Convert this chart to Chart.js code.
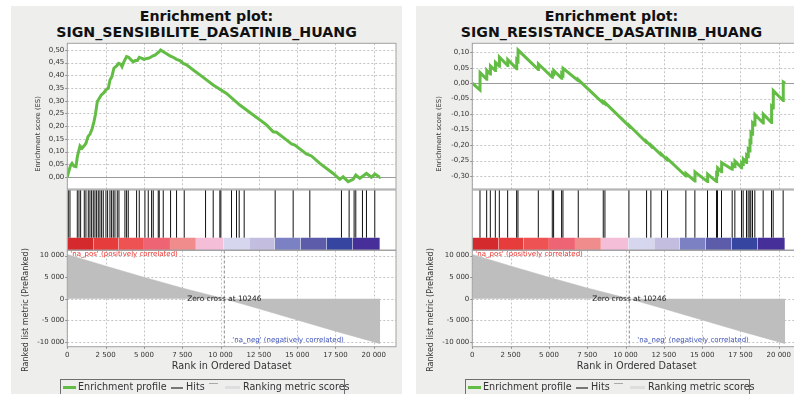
<!DOCTYPE html>
<html>
<head>
<meta charset="utf-8">
<script src="https://cdn.jsdelivr.net/npm/chart.js@4.4.1/dist/chart.umd.min.js"></script>
<style>
  html, body { margin: 0; padding: 0; background: #fff; }
  #page { position: relative; width: 794px; height: 394px; overflow: hidden; font-family: "DejaVu Sans", sans-serif; }
  .panel { position: absolute; top: 6px; width: 391px; height: 400px; background: #eeefed; }
  .title { position: absolute; top: 7.5px; width: 391px; text-align: center; font-weight: bold; font-size: 14.2px; line-height: 16px; color: #111; }
  canvas { position: absolute; }
  .ytitle { position: absolute; white-space: nowrap; color: #333; transform: translate(-50%, -50%) rotate(-90deg); }
  .legend { position: absolute; top: 379px; width: 283px; height: 22px; border: 1px solid #6e6e6e; font-size: 9.6px; color: #333; }
  .legend span { position: absolute; top: -0.5px; line-height: 14px; white-space: nowrap; }
  .legend i { position: absolute; display: block; }
</style>
</head>
<body>
<div id="page"></div>
<script>
// === Données communes ===
const X_MAX = 21450;
const xTicks = [0, 2500, 5000, 7500, 10000, 12500, 15000, 17500, 20000];
const zeroCross = 10246;
const metricRanks = [0, 2500, 5000, 7500, 10246, 12500, 15000, 17500, 20417];
const metricValues = [10300, 7600, 5000, 2500, 0, -2300, -4900, -7500, -10400];
const metricTicks = [-10000, -5000, 0, 5000, 10000];
const barEdges = [0, 1698, 3328, 5000, 6700, 8390, 10176, 11870, 13540, 15220, 16915, 18610, 20393];
const barColors = ['#d42a2e', '#e63c3c', '#ef5252', '#ee6474', '#f08c8c', '#f4bdd8',
                   '#d6d6ee', '#c3bee0', '#7b81c3', '#5c5cab', '#3646a0', '#462f98'];

// === Panneau 1 : SIGN_SENSIBILITE ===
const sensTitle = 'SIGN_SENSIBILITE_DASATINIB_HUANG';
const sensHits = [65, 174, 652, 761, 870, 1109, 1217, 1370, 1478, 1587, 1696, 1804, 1913, 2022, 2130,
  2239, 2348, 2522, 2630, 2783, 2891, 3000, 3109, 3261, 3370, 3761, 3870, 3978, 4522, 4696, 5065,
  5283, 5500, 5609, 5935, 6000, 6261, 6739, 7130, 7630, 9022, 9522, 9957, 10022, 10717, 11043,
  11217, 11543, 13565, 14739, 15826, 17891, 18391, 18717, 18826, 19261, 19522, 20065];
const sensRanks = [0, 89, 220, 307, 437, 567, 654, 828, 958, 1087, 1220, 1350, 1480, 1610, 1740, 1830,
  1960, 2090, 2220, 2390, 2520, 2675, 2785, 2910, 3040, 3220, 3350, 3480, 3570, 3700, 3870, 4000,
  4130, 4300, 4440, 4570, 4700, 4870, 5000, 5170, 5300, 5435, 5570, 5740, 5870, 6000, 6090, 6260,
  6430, 6700, 6910, 7130, 7350, 7570, 7780, 8220, 8870, 9520, 10390, 11260, 11696, 13000, 13435,
  13650, 14300, 14630, 14850, 15600, 15930, 16480, 17350, 17780, 18000, 18330, 18650, 18830, 19090,
  19300, 19520, 19850, 20065, 20390, 20417];
const sensES = [0, 0.021, 0.047, 0.054, 0.043, 0.041, 0.080, 0.122, 0.113, 0.122, 0.133, 0.159, 0.169,
  0.188, 0.218, 0.244, 0.297, 0.310, 0.323, 0.332, 0.343, 0.349, 0.382, 0.395, 0.428, 0.437, 0.447,
  0.444, 0.434, 0.454, 0.474, 0.471, 0.463, 0.453, 0.458, 0.458, 0.471, 0.467, 0.463, 0.466, 0.467,
  0.471, 0.476, 0.480, 0.487, 0.493, 0.500, 0.493, 0.487, 0.476, 0.471, 0.463, 0.458, 0.447, 0.441,
  0.421, 0.392, 0.362, 0.329, 0.283, 0.264, 0.205, 0.178, 0.176, 0.146, 0.130, 0.126, 0.091, 0.083,
  0.054, 0.014, -0.009, 0.001, -0.018, -0.009, 0.008, -0.005, 0.004, 0.014, -0.001, 0.012, -0.001, 0];
const sensTicks = [0, 0.05, 0.1, 0.15, 0.2, 0.25, 0.3, 0.35, 0.4, 0.45, 0.5];

// === Panneau 2 : SIGN_RESISTANCE ===
const resTitle = 'SIGN_RESISTANCE_DASATINIB_HUANG';
const resHits = [502, 937, 1176, 1502, 1763, 2307, 2893, 2980, 4307, 5220, 5306, 5828, 5915, 6915,
  8546, 8655, 10220, 11372, 11654, 12350, 12741, 13937, 14524, 15350, 15937, 16002, 16263, 16959,
  17133, 17567, 17676, 17893, 18002, 18111, 18176, 18285, 18437, 18980, 19524, 19633, 20285];
const resRanks = [0, 502, 510, 937, 945, 1176, 1184, 1502, 1510, 1763, 1771, 2307, 2315, 2893, 2900,
  2980, 2988, 4307, 4315, 5220, 5228, 5306, 5314, 5828, 5836, 5915, 5923, 6915, 6923, 8546, 8554,
  8655, 8663, 10220, 10228, 11372, 11380, 11654, 11662, 12350, 12358, 12741, 12749, 13937, 13945,
  14524, 14532, 15350, 15358, 15937, 15945, 16002, 16010, 16263, 16271, 16959, 16967, 17133, 17141,
  17567, 17575, 17676, 17684, 17893, 17901, 18002, 18010, 18111, 18119, 18176, 18184, 18285, 18293,
  18437, 18445, 18980, 18988, 19524, 19532, 19633, 19641, 20285, 20293, 20417];
const resES = [0, -0.022, 0.034, 0.013, 0.042, 0.030, 0.056, 0.041, 0.067, 0.055, 0.084, 0.057, 0.076,
  0.047, 0.076, 0.072, 0.107, 0.044, 0.062, 0.019, 0.031, 0.027, 0.041, 0.016, 0.031, 0.027, 0.048,
  0.008, 0.011, -0.065, -0.061, -0.066, -0.063, -0.138, -0.136, -0.192, -0.189, -0.203, -0.200,
  -0.233, -0.230, -0.249, -0.245, -0.300, -0.292, -0.316, -0.287, -0.318, -0.294, -0.318, -0.294,
  -0.297, -0.274, -0.286, -0.257, -0.278, -0.262, -0.270, -0.252, -0.273, -0.258, -0.263, -0.245,
  -0.256, -0.233, -0.238, -0.214, -0.219, -0.190, -0.193, -0.160, -0.165, -0.128, -0.135, -0.102,
  -0.129, -0.100, -0.127, -0.075, -0.080, -0.024, -0.056, 0.004, 0];
const resTicks = [-0.3, -0.25, -0.2, -0.15, -0.1, -0.05, 0, 0.05, 0.1];

// === Styles ===
Chart.defaults.font.family = 'DejaVu Sans';
const GREEN = '#63bd45';
const GRID = '#c4c4c4';
const BAR_TOP = 0.205;
const AXIS_W = 56.3;
const tickFont = { family: 'DejaVu Sans', size: 7 };
const fmtThousands = v => String(v).replace(/\B(?=(\d{3})+(?!\d))/g, ' ');
const fmtES = v => v.toFixed(2).replace('.', ',');
const page = document.getElementById('page');
const snap = v => Math.round(v) + 0.5;

// fond blanc, grille pointillée, graduations et ligne du zéro (avant les courbes)
const plotBack = {
    id: 'plotBack',
    beforeDatasetsDraw(chart, args, opts) {
        const { ctx, chartArea: a, scales: { x, y } } = chart;
        ctx.save();
        ctx.fillStyle = '#fff';
        ctx.fillRect(a.left, a.top, a.right - a.left, a.bottom - a.top);
        if (opts.grid) {
            ctx.lineWidth = 1;
            ctx.strokeStyle = GRID;
            ctx.setLineDash([2, 2]);
            ctx.beginPath();
            x.ticks.forEach(t => {
                const px = snap(x.getPixelForValue(t.value));
                ctx.moveTo(px, a.top); ctx.lineTo(px, a.bottom);
            });
            y.ticks.forEach(t => {
                const py = snap(y.getPixelForValue(t.value));
                ctx.moveTo(a.left, py); ctx.lineTo(a.right, py);
            });
            ctx.stroke();
            ctx.setLineDash([]);
            ctx.strokeStyle = '#888';
            ctx.beginPath();
            y.ticks.forEach(t => {
                const py = snap(y.getPixelForValue(t.value));
                ctx.moveTo(a.left - 2, py); ctx.lineTo(a.left, py);
            });
            if (opts.xMarks) {
                x.ticks.forEach(t => {
                    const px = snap(x.getPixelForValue(t.value));
                    ctx.moveTo(px, a.bottom); ctx.lineTo(px, a.bottom + 2);
                });
            }
            ctx.stroke();
        }
        if (opts.zeroLine) {
            const py = snap(y.getPixelForValue(0));
            ctx.strokeStyle = '#9a9a9a';
            ctx.beginPath();
            ctx.moveTo(a.left, py); ctx.lineTo(a.right, py);
            ctx.stroke();
        }
        ctx.restore();
    },
    afterDraw(chart) {
        const a = chart.chartArea, ctx = chart.ctx;
        ctx.save();
        ctx.strokeStyle = '#a2a2a2';
        ctx.lineWidth = 1;
        ctx.strokeRect(a.left, a.top, a.right - a.left, a.bottom - a.top);
        ctx.restore();
    }
};

// ligne du zéro + annotations du graphique des scores
const metricNotes = {
    id: 'metricNotes',
    afterDatasetsDraw(chart) {
        const { ctx, chartArea: a, scales: { x, y } } = chart;
        const zx = x.getPixelForValue(zeroCross);
        ctx.save();
        ctx.strokeStyle = '#8a8a8a';
        ctx.lineWidth = 1;
        ctx.setLineDash([3, 2]);
        ctx.beginPath();
        ctx.moveTo(zx, a.top);
        ctx.lineTo(zx, a.bottom);
        ctx.stroke();
        ctx.setLineDash([]);
        ctx.font = '7px "DejaVu Sans"';
        ctx.textBaseline = 'middle';
        ctx.textAlign = 'left';
        ctx.fillStyle = '#e8322e';
        ctx.fillText("'na_pos' (positively correlated)", a.left + 3, a.top + 4);
        ctx.fillStyle = '#3b50b8';
        ctx.fillText("'na_neg' (negatively correlated)", zx + 8, a.bottom - 6.5);
        ctx.font = '7.4px "DejaVu Sans"';
        ctx.fillStyle = '#222';
        ctx.textAlign = 'center';
        ctx.fillText('Zero cross at ' + zeroCross, zx, y.getPixelForValue(0));
        ctx.restore();
    }
};

function addCanvas(left, top, w, h) {
    const c = document.createElement('canvas');
    c.width = w; c.height = h;
    c.style.left = left + 'px';
    c.style.top = top + 'px';
    page.appendChild(c);
    return c;
}

function addDiv(cls, css, html) {
    const d = document.createElement('div');
    d.className = cls;
    Object.assign(d.style, css);
    d.innerHTML = html;
    page.appendChild(d);
    return d;
}

function xScale(withLabels) {
    return {
        type: 'linear', min: 0, max: X_MAX,
        afterBuildTicks: s => { s.ticks = xTicks.map(v => ({ value: v })); },
        afterFit: s => { s.height = withLabels ? 32.3 : 0; },
        grid: { display: false, tickLength: 2 },
        border: { display: false },
        ticks: { display: withLabels, font: tickFont, color: '#333', padding: 2, maxRotation: 0, autoSkip: false, callback: fmtThousands },
        title: {
            display: withLabels, text: 'Rank in Ordered Dataset', color: '#333',
            font: { family: 'DejaVu Sans', size: 9.7 }, padding: { top: 0, bottom: 6.5 }
        }
    };
}

function yScale(min, max, ticks, fmt) {
    return {
        min: min, max: max,
        afterBuildTicks: s => { s.ticks = ticks.map(v => ({ value: v })); },
        afterFit: s => { s.width = AXIS_W; },
        grid: { display: false, tickLength: 2 },
        border: { display: false },
        ticks: { font: tickFont, color: '#333', padding: 1, callback: fmt }
    };
}

function hidden(min, max, isX) {
    return {
        type: 'linear', min: min, max: max,
        afterFit: s => { if (isX) s.height = 0; else s.width = AXIS_W; },
        grid: { display: false, drawTicks: false }, border: { display: false }, ticks: { display: false }
    };
}

const baseOptions = {
    responsive: false, animation: false, events: [], devicePixelRatio: 1
};

function makePanel(p) {
    const L = p.left;
    addDiv('panel', { left: L + 'px' }, '');
    addDiv('title', { left: L + 'px' }, 'Enrichment plot:<br>' + p.title);

    // --- Graphique 1 : score d'enrichissement ---
    new Chart(addCanvas(L, 37, 391, 158), {
        type: 'line',
        data: {
            datasets: [{ data: p.ranks.map((r, i) => ({ x: r, y: p.es[i] })), borderColor: GREEN, borderWidth: 3, pointRadius: 0, tension: 0 }]
        },
        options: Object.assign({}, baseOptions, {
            layout: { padding: { top: 6.3, bottom: 6, left: 0, right: 6 } },
            plugins: { legend: { display: false }, tooltip: { enabled: false }, plotBack: { grid: true, zeroLine: true, xMarks: false } },
            scales: { x: xScale(false), y: yScale(p.esMin, p.esMax, p.ticks, fmtES) }
        }),
        plugins: [plotBack]
    });

    // --- Graphique 2 : hits + barre de couleurs ---
    const bars = barColors.map((c, i) => ({
        data: [{ x: barEdges[i], y: BAR_TOP }, { x: barEdges[i + 1], y: BAR_TOP }],
        fill: 'origin', backgroundColor: c, borderWidth: 0, pointRadius: 0
    }));
    const hitLines = {
        data: p.hits.flatMap(h => [{ x: h, y: BAR_TOP }, { x: h, y: 1 }, { x: h, y: null }]),
        borderColor: '#111', borderWidth: 1, pointRadius: 0, spanGaps: false
    };
    new Chart(addCanvas(L, 184, 391, 72), {
        type: 'line',
        data: { datasets: [hitLines].concat(bars) },
        options: Object.assign({}, baseOptions, {
            layout: { padding: { top: 6, bottom: 6, left: 0, right: 6 } },
            plugins: { legend: { display: false }, tooltip: { enabled: false }, plotBack: { grid: false } },
            scales: { x: hidden(0, X_MAX, true), y: hidden(0, 1, false) }
        }),
        plugins: [plotBack]
    });

    // --- Graphique 3 : métrique de classement ---
    new Chart(addCanvas(L, 244, 391, 135), {
        type: 'line',
        data: {
            datasets: [{
                data: metricRanks.map((r, i) => ({ x: r, y: metricValues[i] })),
                fill: 'origin', backgroundColor: '#bebebe', borderColor: '#bebebe', borderWidth: 0.5, pointRadius: 0
            }]
        },
        options: Object.assign({}, baseOptions, {
            layout: { padding: { top: 6.5, bottom: 0, left: 0, right: 6 } },
            plugins: { legend: { display: false }, tooltip: { enabled: false }, plotBack: { grid: true, zeroLine: false, xMarks: true } },
            scales: { x: xScale(true), y: yScale(-11100, 11200, metricTicks, fmtThousands) }
        }),
        plugins: [plotBack, metricNotes]
    });

    // titres des axes verticaux
    addDiv('ytitle', { left: p.esTitleX + 'px', top: '134px', fontSize: '6.8px' }, 'Enrichment score (ES)');
    addDiv('ytitle', { left: (L + 14.2) + 'px', top: '310px', fontSize: '8px' }, 'Ranked list metric (PreRanked)');

    // légende
    const lg = addDiv('legend', { left: (L + 49) + 'px' }, '');
    lg.innerHTML =
        '<i style="left:2px;top:6px;width:13px;height:3px;background:' + GREEN + '"></i>' +
        '<span style="left:17px">Enrichment profile</span>' +
        '<i style="left:110px;top:6.5px;width:12px;height:2px;background:#777"></i>' +
        '<span style="left:125px">Hits</span>' +
        '<i style="left:148px;top:3px;width:9px;height:1px;background:#aaa"></i>' +
        '<i style="left:164px;top:6px;width:15px;height:3px;background:#dedede"></i>' +
        '<span style="left:182px">Ranking metric scores</span>';
}

makePanel({ left: 11, title: sensTitle, hits: sensHits, ranks: sensRanks, es: sensES, ticks: sensTicks, esMin: -0.047, esMax: 0.526, esTitleX: 38 });
makePanel({ left: 416, title: resTitle, hits: resHits, ranks: resRanks, es: resES, ticks: resTicks, esMin: -0.342, esMax: 0.129, esTitleX: 439.2 });
</script>
</body>
</html>
